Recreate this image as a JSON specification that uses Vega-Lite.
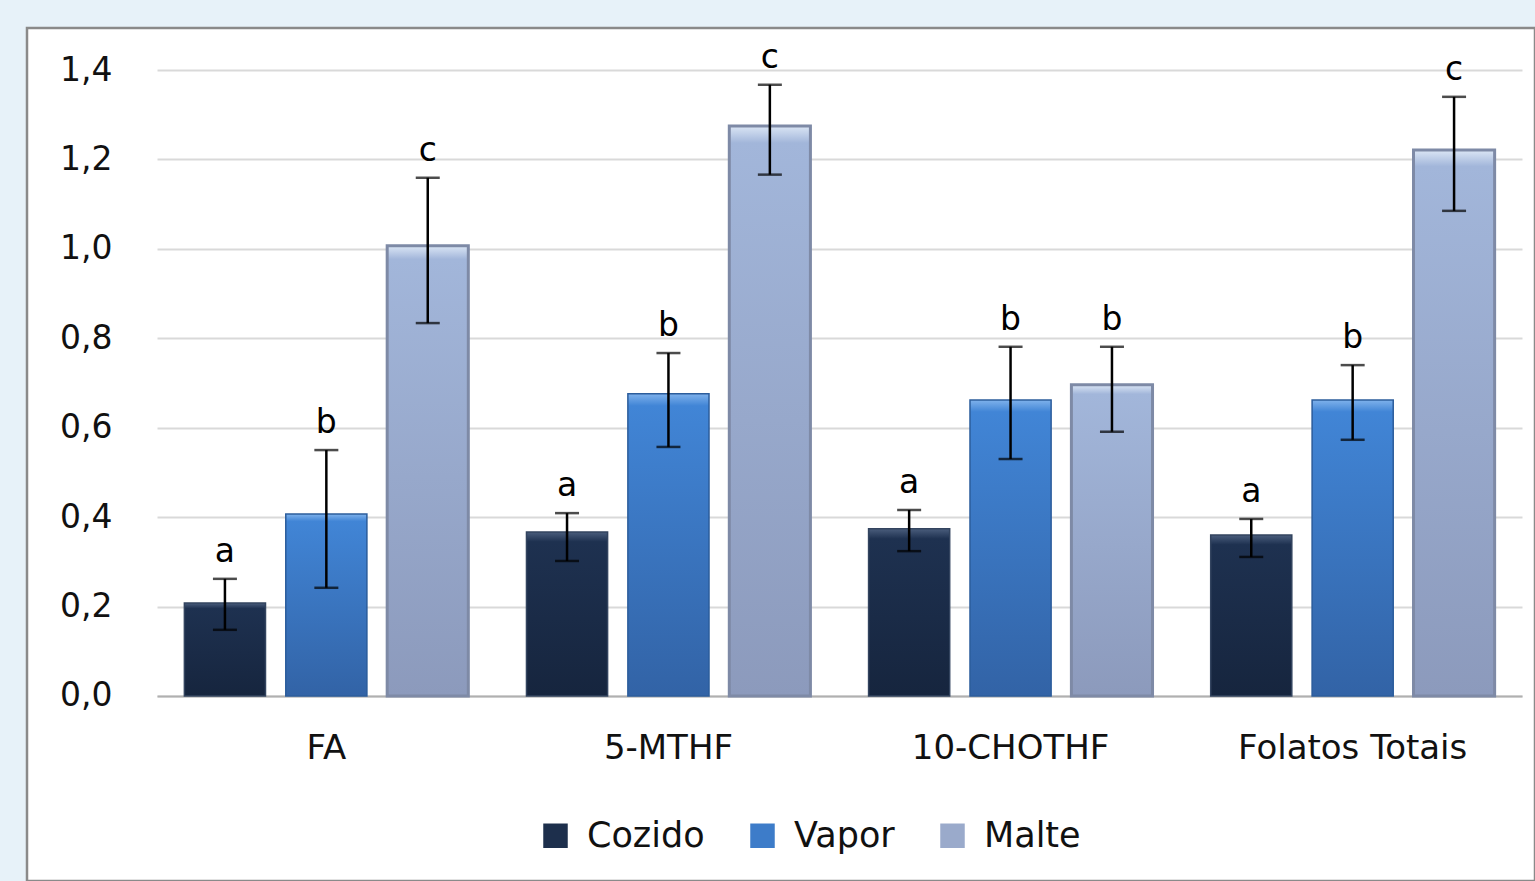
{
  "$schema": "https://vega.github.io/schema/vega-lite/v6.json",
  "width": 1508,
  "height": 853,
  "autosize": {"type": "none"},
  "padding": {"left": 27, "top": 28, "right": 0, "bottom": 0},
  "background": "#e7f2f9",
  "view": {"fill": "#ffffff", "stroke": "#8a8a8a", "strokeWidth": 2.5},
  "config": {
    "font": "DejaVu Sans",
    "axis": {"labelFont": "DejaVu Sans", "labelColor": "#111111"},
    "legend": {"labelFont": "DejaVu Sans", "labelColor": "#111111"}
  },
  "data": {
    "values": [
      {"group": "FA", "series": "Cozido", "value": 0.208, "lo": 0.148, "hi": 0.262, "letter": "a"},
      {"group": "FA", "series": "Vapor", "value": 0.407, "lo": 0.242, "hi": 0.55, "letter": "b"},
      {"group": "FA", "series": "Malte", "value": 1.007, "lo": 0.834, "hi": 1.159, "letter": "c"},
      {"group": "5-MTHF", "series": "Cozido", "value": 0.367, "lo": 0.302, "hi": 0.409, "letter": "a"},
      {"group": "5-MTHF", "series": "Vapor", "value": 0.676, "lo": 0.557, "hi": 0.767, "letter": "b"},
      {"group": "5-MTHF", "series": "Malte", "value": 1.275, "lo": 1.166, "hi": 1.367, "letter": "c"},
      {"group": "10-CHOTHF", "series": "Cozido", "value": 0.374, "lo": 0.324, "hi": 0.416, "letter": "a"},
      {"group": "10-CHOTHF", "series": "Vapor", "value": 0.662, "lo": 0.53, "hi": 0.781, "letter": "b"},
      {"group": "10-CHOTHF", "series": "Malte", "value": 0.696, "lo": 0.591, "hi": 0.781, "letter": "b"},
      {"group": "Folatos Totais", "series": "Cozido", "value": 0.36, "lo": 0.311, "hi": 0.396, "letter": "a"},
      {"group": "Folatos Totais", "series": "Vapor", "value": 0.662, "lo": 0.573, "hi": 0.74, "letter": "b"},
      {"group": "Folatos Totais", "series": "Malte", "value": 1.221, "lo": 1.085, "hi": 1.34, "letter": "c"}
    ]
  },
  "encoding": {
    "x": {
      "field": "group", "type": "nominal",
      "sort": ["FA", "5-MTHF", "10-CHOTHF", "Folatos Totais"],
      "scale": {"range": [130, 1495], "paddingInner": 0.17, "paddingOuter": 0.08},
      "axis": {
        "title": null, "labelAngle": 0, "labelFontSize": 34, "labelPadding": 35, "labelLimit": 0,
        "offset": -185,
        "ticks": false, "domainColor": "#b0b0b0", "domainWidth": 2, "grid": false
      }
    },
    "xOffset": {
      "field": "series", "type": "nominal",
      "sort": ["Cozido", "Vapor", "Malte"],
      "scale": {"paddingInner": 0.2, "paddingOuter": 0}
    }
  },
  "layer": [
    {
      "mark": {"type": "bar"},
      "encoding": {
        "y": {
          "field": "value", "type": "quantitative",
          "scale": {"domain": [-0.41374, 1.49393], "nice": false, "zero": false},
          "axis": {
            "title": null, "values": [0, 0.2, 0.4, 0.6, 0.8, 1.0, 1.2, 1.4],
            "labelExpr": "replace(format(datum.value, '.1f'), '.', ',')",
            "labelFontSize": 33, "labelPadding": 0, "offset": -85, "ticks": false, "domain": false,
            "gridColor": "#d9d9d9", "gridWidth": 2
          }
        },
        "color": {
          "field": "series", "type": "nominal",
          "sort": ["Cozido", "Vapor", "Malte"],
          "scale": {"domain": ["Cozido", "Vapor", "Malte"], "range": ["#1d2f4c", "#3d7cc9", "#9aaacb"]},
          "legend": {
            "title": null, "orient": "none", "legendX": 511, "legendY": 790,
            "direction": "horizontal",
            "symbolType": "square", "symbolSize": 600, "labelFontSize": 35,
            "labelOffset": 14, "columnPadding": 40, "symbolStrokeWidth": 0, "symbolOpacity": 1
          }
        }
      }
    },
    {
      "transform": [{"filter": "datum.series === 'Cozido'"}],
      "mark": {
        "type": "bar", "stroke": "#33445f", "strokeWidth": 1.5,
        "fill": {"gradient": "linear", "x1": 0, "y1": 0, "x2": 0, "y2": 1,
          "stops": [{"offset": 0, "color": "#4a5d7c"}, {"offset": 0.06, "color": "#1e3150"}, {"offset": 1, "color": "#16253e"}]}
      },
      "encoding": {"y": {"field": "value", "type": "quantitative"}}
    },
    {
      "transform": [{"filter": "datum.series === 'Vapor'"}],
      "mark": {
        "type": "bar", "stroke": "#2c5d9c", "strokeWidth": 1.5,
        "fill": {"gradient": "linear", "x1": 0, "y1": 0, "x2": 0, "y2": 1,
          "stops": [{"offset": 0, "color": "#7fb2ec"}, {"offset": 0.04, "color": "#4185d6"}, {"offset": 1, "color": "#3263a6"}]}
      },
      "encoding": {"y": {"field": "value", "type": "quantitative"}}
    },
    {
      "transform": [{"filter": "datum.series === 'Malte'"}],
      "mark": {
        "type": "bar", "stroke": "#7e8aa6", "strokeWidth": 3,
        "fill": {"gradient": "linear", "x1": 0, "y1": 0, "x2": 0, "y2": 1,
          "stops": [{"offset": 0, "color": "#dbe6f5"}, {"offset": 0.03, "color": "#a2b6da"}, {"offset": 1, "color": "#8c9abc"}]}
      },
      "encoding": {"y": {"field": "value", "type": "quantitative"}}
    },
    {
      "mark": {"type": "rule", "color": "#000000", "strokeWidth": 2.5},
      "encoding": {
        "y": {"field": "lo", "type": "quantitative"},
        "y2": {"field": "hi"}
      }
    },
    {
      "mark": {"type": "tick", "orient": "horizontal", "color": "#000000", "thickness": 2.5, "size": 24},
      "encoding": {"y": {"field": "lo", "type": "quantitative"}}
    },
    {
      "mark": {"type": "tick", "orient": "horizontal", "color": "#000000", "thickness": 2.5, "size": 24},
      "encoding": {"y": {"field": "hi", "type": "quantitative"}}
    },
    {
      "mark": {"type": "text", "fontSize": 33, "baseline": "alphabetic", "dy": -17, "color": "#000000"},
      "encoding": {
        "y": {"field": "hi", "type": "quantitative"},
        "text": {"field": "letter"}
      }
    }
  ]
}
